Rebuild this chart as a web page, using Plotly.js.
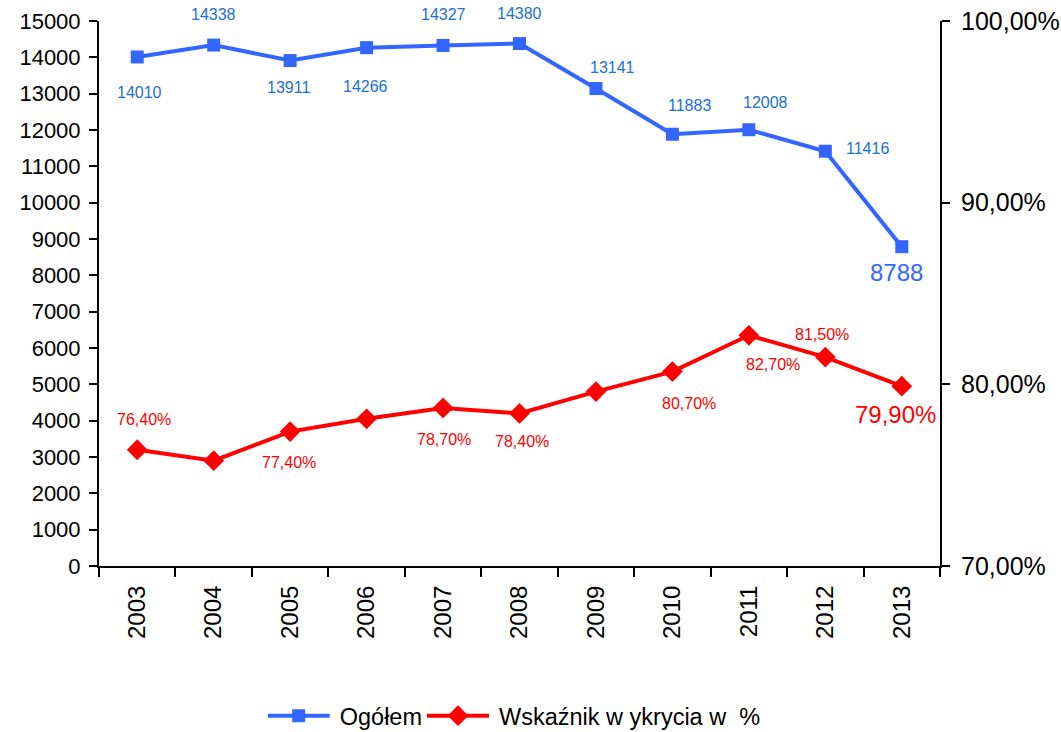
<!DOCTYPE html>
<html>
<head>
<meta charset="utf-8">
<script src="https://cdn.plot.ly/plotly-3.0.1.min.js"></script>
<style>html,body{margin:0;padding:0;background:#fff;}#chart{width:1061px;height:732px;}</style>
</head>
<body>
<div id="chart"></div>
<script>
const years = ['2003','2004','2005','2006','2007','2008','2009','2010','2011','2012','2013'];
const ogolem = [14010, 14338, 13911, 14266, 14327, 14380, 13141, 11883, 12008, 11416, 8788];
const wskaznik = [76.4, 75.8, 77.4, 78.1, 78.7, 78.4, 79.6, 80.7, 82.7, 81.5, 79.9];
const wskaznikLabeled = [true, false, true, false, true, true, false, true, true, true, true];
const seriesNames = ['Ogółem', 'Wskaźnik w ykrycia w  %'];

// label offsets in pixels (dx, dy up)
const blueOff = [[2,-36],[0,31],[-2,-27],[-1,-39],[0,31],[0,30],[17,21],[17,29],[17,27],[42,3],[-5,-26]];
const redOff  = [[7,30],[0,0],[-1,-31],[0,0],[1,-32],[2,-28],[0,0],[17,-32],[24,-29],[-3,23],[-6,-28]];

const FONT = 'Liberation Sans, Arial, sans-serif';
const BLUE = '#3366FF', BLUE_LBL = '#1A6FD8', RED = '#FF0000';

const traces = [
  {x: years, y: ogolem, name: seriesNames[0], type: 'scatter', mode: 'lines+markers',
   line: {color: BLUE, width: 4}, marker: {symbol: 'square', size: 13, color: BLUE}, yaxis: 'y', cliponaxis: false},
  {x: years, y: wskaznik, name: seriesNames[1], type: 'scatter', mode: 'lines+markers',
   line: {color: RED, width: 4}, marker: {symbol: 'diamond', size: 16, color: RED}, yaxis: 'y2', cliponaxis: false}
];

const annotations = [];
for (let i = 0; i < ogolem.length; i++) {
  const last = i === ogolem.length - 1;
  annotations.push({x: i, y: ogolem[i], xref: 'x', yref: 'y', text: String(ogolem[i]), showarrow: false,
    xshift: blueOff[i][0], yshift: blueOff[i][1],
    font: {family: FONT, size: last ? 24 : 16, color: last ? BLUE : BLUE_LBL}});
}
for (let i = 0; i < wskaznik.length; i++) {
  if (!wskaznikLabeled[i]) continue;
  const last = i === wskaznik.length - 1;
  annotations.push({x: i, y: wskaznik[i], xref: 'x', yref: 'y2', text: wskaznik[i].toFixed(2).replace('.', ',') + '%', showarrow: false,
    xshift: redOff[i][0], yshift: redOff[i][1],
    font: {family: FONT, size: last ? 24 : 16, color: RED}});
}

const layout = {
  width: 1061, height: 732,
  margin: {l: 99, r: 121, t: 21, b: 166},
  paper_bgcolor: '#fff', plot_bgcolor: '#fff',
  font: {family: FONT, size: 22, color: '#000'},
  separators: ',.',
  showlegend: true,
  legend: {orientation: 'h', x: 0.487, xanchor: 'center', xref: 'container', y: 0.022, yanchor: 'middle', yref: 'container',
           font: {family: FONT, size: 23.5, color: '#000'}, itemwidth: 62},
  xaxis: {type: 'category', tickson: 'boundaries', ticks: 'outside', ticklen: 9, tickwidth: 2, tickcolor: '#000',
          showline: true, linecolor: '#000', linewidth: 2, showgrid: false, zeroline: false, automargin: false,
          tickangle: -90, tickfont: {family: FONT, size: 24}, range: [-0.5, 10.5], ticklabelstandoff: 8},
  yaxis: {range: [0, 15000], dtick: 1000, tickformat: 'd', ticks: 'outside', ticklen: 8, tickwidth: 2, tickcolor: '#000',
          showline: true, linecolor: '#000', linewidth: 2, showgrid: false, zeroline: false, automargin: false,
          tickfont: {family: FONT, size: 22}, ticklabelstandoff: 4},
  yaxis2: {range: [70, 100], dtick: 10, tickformat: '.2f', ticksuffix: '%', overlaying: 'y', side: 'right',
           ticks: 'outside', ticklen: 8, tickwidth: 2, tickcolor: '#000', ticklabelstandoff: 6,
           showline: true, linecolor: '#000', linewidth: 2, showgrid: false, zeroline: false, automargin: false,
           tickfont: {family: FONT, size: 25}},
  annotations: annotations
};

Plotly.newPlot('chart', traces, layout, {displayModeBar: false}).then(gd => {
  // lengthen the legend sample lines to look like the original
  gd.querySelectorAll('.legend .legendlines path').forEach(p => p.setAttribute('d', 'M0,0h62'));
  gd.querySelectorAll('.legend .legendpoints path').forEach(p => {
    p.setAttribute('transform', 'translate(31,0)');
  });
});
</script>
</body>
</html>
